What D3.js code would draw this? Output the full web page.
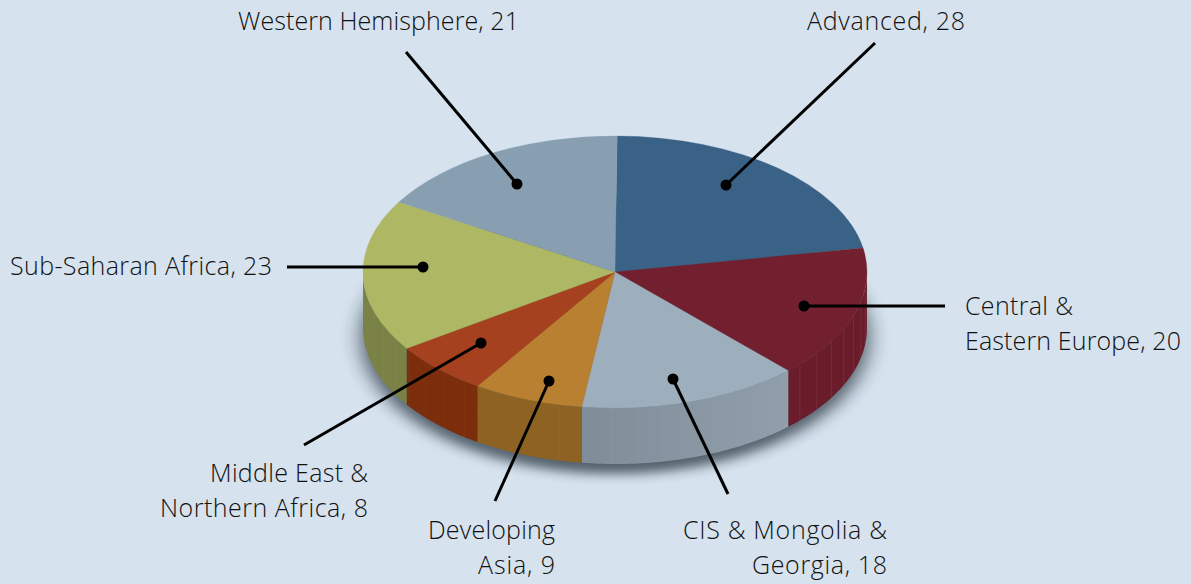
<!DOCTYPE html>
<html><head><meta charset="utf-8">
<script src="https://cdnjs.cloudflare.com/ajax/libs/d3/7.8.5/d3.min.js"></script>
<style>html,body{margin:0;padding:0;background:#d6e2ee;overflow:hidden}svg{display:block}text{font-family:"Open Sans",sans-serif;font-weight:300;font-size:25px;fill:#111}</style>
</head><body><script>
const categories = ["Advanced","Central & Eastern Europe","CIS & Mongolia & Georgia","Developing Asia","Middle East & Northern Africa","Sub-Saharan Africa","Western Hemisphere"];
const values = [28,20,18,9,8,23,21];
const topColors = ["#3a6186","#72202f","#9daebc","#b98031","#a6411f","#adb764","#879fb1"];
const sideColors = ["#2e4e6c","#6a1c2b","#84949f","#8d6223","#7c2d0b","#798244","#6c7f8e"];
const labelLines = [["Advanced, 28"],["Central &","Eastern Europe, 20"],["CIS & Mongolia &","Georgia, 18"],["Developing","Asia, 9"],["Middle East &","Northern Africa, 8"],["Sub-Saharan Africa, 23"],["Western Hemisphere, 21"]];
const labelWidths = [[158],[108,216],[204,135],[127,77],[158,208],[262],[281]];
const labelX = [965,965,887,555,368,272,519];
const labelY = [30,315,539,539,482,275,30];
const labelAnchor = ["end","start","end","end","end","end","end"];
const leaderFrom = [[875,43],[945,306],[728,494],[495,501],[304,445],[287,267],[406,52]];
const dots = [[726,185],[804,306],[673,379],[549,381],[481,343],[423,267],[517,184]];

const W=1191,H=584,cx=615,cy=272,rx=252,ry=136,depth=56;
const svg=d3.select("body").append("svg").attr("width",W).attr("height",H);
const defs=svg.append("defs");
defs.append("filter").attr("id","blur").attr("x","-20%").attr("y","-20%").attr("width","140%").attr("height","140%")
  .append("feGaussianBlur").attr("stdDeviation",10);
const g0=defs.append("linearGradient").attr("id","cisGrad");
g0.append("stop").attr("offset","0").attr("stop-color","#7e8d98");
g0.append("stop").attr("offset","1").attr("stop-color","#909fab");

svg.append("rect").attr("width",W).attr("height",H).attr("fill","#d6e2ee");

const startA=0.5*Math.PI/180;
const pie=d3.pie().sort(null).startAngle(startA).endAngle(startA+2*Math.PI);
const arcs=pie(values);
const px=a=>cx+rx*Math.sin(a), py=(a,d=0)=>cy-ry*Math.cos(a)+d;

// shadow
svg.append("path")
  .attr("d",d3.arc().innerRadius(0).outerRadius(rx+2)({startAngle:0,endAngle:2*Math.PI}))
  .attr("transform",`translate(${cx},${cy+depth+9}) scale(1,${ry/rx})`)
  .attr("fill","#1d2a36").attr("opacity",.7).attr("filter","url(#blur)");

// side walls
const rad=Math.PI/180;
const line=d3.line().x(d=>d[0]).y(d=>d[1]);
function wall(a0,a1){
  const pts=[];const n=Math.max(2,Math.ceil((a1-a0)/rad));
  for(let i=0;i<=n;i++){const a=a0+(a1-a0)*i/n;pts.push([px(a),py(a)]);}
  for(let i=n;i>=0;i--){const a=a0+(a1-a0)*i/n;pts.push([px(a),py(a,depth)]);}
  return line(pts)+"Z";
}
const gw=svg.append("g");
arcs.forEach((d,i)=>{
  const a0=Math.max(d.startAngle,90*rad),a1=Math.min(d.endAngle,270*rad);
  if(a1<=a0)return;
  gw.append("path").attr("d",wall(a0,a1)).attr("fill",i===2?"url(#cisGrad)":sideColors[i]);
  d3.range(90.8,270,6).map(x=>x*rad).filter(a=>a>a0+.01&&a<a1-.01).forEach(a=>{
    gw.append("line").attr("x1",px(a)).attr("x2",px(a)).attr("y1",py(a)).attr("y2",py(a,depth))
      .attr("stroke","#fff").attr("stroke-opacity",i===1?.08:.04).attr("stroke-width",1);
  });
});

// top
const arcGen=d3.arc().innerRadius(0).outerRadius(rx);
svg.append("g").attr("transform",`translate(${cx},${cy}) scale(1,${ry/rx})`)
  .selectAll("path").data(arcs).join("path")
  .attr("d",arcGen).attr("fill",(d,i)=>topColors[i])
  .attr("stroke",(d,i)=>topColors[i]).attr("stroke-width",.4);

// leaders
const lg=svg.append("g");
categories.forEach((c,i)=>{
  lg.append("line").attr("x1",leaderFrom[i][0]).attr("y1",leaderFrom[i][1]).attr("x2",dots[i][0]).attr("y2",dots[i][1])
    .attr("stroke","#000").attr("stroke-width",3);
  lg.append("circle").attr("cx",dots[i][0]).attr("cy",dots[i][1]).attr("r",5.5).attr("fill","#000");
  labelLines[i].forEach((t,j)=>{
    svg.append("text").attr("x",labelX[i]).attr("y",labelY[i]+j*35)
      .attr("text-anchor",labelAnchor[i])
      .attr("textLength",labelWidths[i][j]).attr("lengthAdjust","spacing").text(t);
  });
});
</script></body></html>
